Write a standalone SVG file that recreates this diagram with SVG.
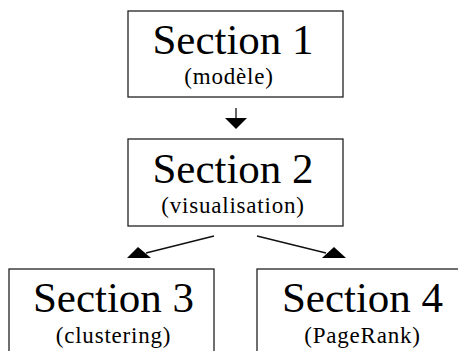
<svg xmlns="http://www.w3.org/2000/svg" width="458" height="351" viewBox="0 0 458 351">
<style>
.box{fill:#fff;stroke:#222;stroke-width:1.3}
.t{font-family:"Liberation Serif",serif;fill:#000;text-anchor:middle}
.big{font-size:43px}
.sub{font-size:23px;letter-spacing:0.8px}
.ln{stroke:#111;stroke-width:1.3;fill:none}
.hd{fill:#000}
</style>
<rect width="458" height="351" fill="#fff"/>
<g id="connectors">
<line class="ln" x1="236" y1="108" x2="236" y2="120"/>
<polygon class="hd" points="225,118 247,118 236,129"/>
<line class="ln" x1="214" y1="236" x2="146" y2="253"/>
<polygon class="hd" points="127,258 151,258 138,247"/>
<line class="ln" x1="257" y1="236" x2="326" y2="253"/>
<polygon class="hd" points="322,258 346,258 334,247"/>
</g>
<g id="node1">
<rect class="box" x="128" y="11" width="215" height="86"/>
<text class="t big" x="233" y="54">Section 1</text>
<text class="t sub" x="229" y="84">(modèle)</text>
</g>
<g id="node2">
<rect class="box" x="128" y="139" width="215" height="87"/>
<text class="t big" x="233" y="183">Section 2</text>
<text class="t sub" x="233" y="213">(visualisation)</text>
</g>
<g id="node3">
<rect class="box" x="9" y="269" width="205" height="90"/>
<text class="t big" x="113.5" y="312">Section 3</text>
<text class="t sub" x="113.5" y="343">(clustering)</text>
</g>
<g id="node4">
<rect class="box" x="257" y="269" width="210" height="90"/>
<text class="t big" x="362.5" y="312">Section 4</text>
<text class="t sub" x="362.5" y="343">(PageRank)</text>
</g>
</svg>
